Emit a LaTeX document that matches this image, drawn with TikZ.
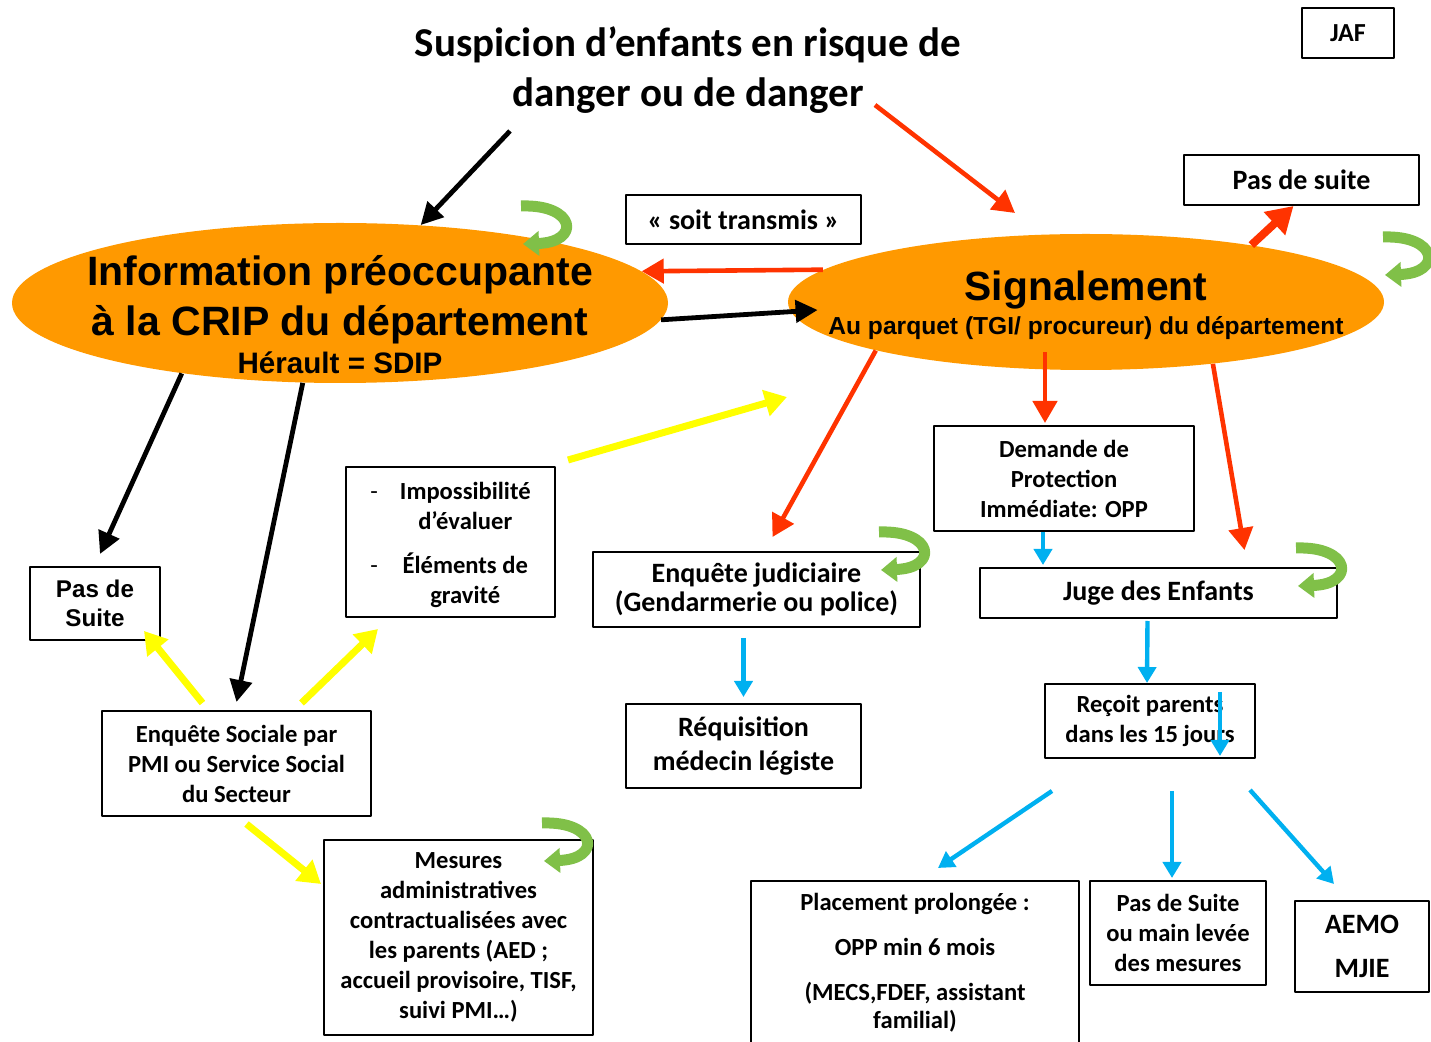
\documentclass[tikz,border=0pt]{standalone}
\usepackage{fontspec}
\setmainfont{Carlito}
\newfontfamily\arialf{Liberation Sans}
\usetikzlibrary{arrows.meta,shapes.geometric,calc}
\definecolor{orangeB}{RGB}{255,153,0}
\definecolor{rougeF}{RGB}{255,51,0}
\definecolor{jauneF}{RGB}{255,255,0}
\definecolor{bleuF}{RGB}{0,176,240}
\definecolor{vertF}{RGB}{128,192,72}
\tikzset{
  boite/.style={draw, line width=1pt, align=center, inner sep=0pt,
    font=\bfseries\fontsize{12.3}{15}\selectfont},
  grand/.style={font=\bfseries\fontsize{14}{17}\selectfont},
  bulle/.style={ellipse, fill=orangeB, inner sep=0pt},
  noire/.style={line width=2.4pt, -{Triangle[length=11pt,width=11pt]}},
  rouge/.style={rougeF, line width=2.3pt, -{Triangle[length=11pt,width=12pt]}},
  jaune/.style={jauneF, line width=3.5pt, -{Triangle[length=11pt,width=13pt]}},
  bleue/.style={bleuF, line width=2.2pt, -{Triangle[length=8pt,width=9pt]}},
  pics/boucle/.style={code={
    \draw[vertF, line width=5.5pt, -{Triangle[length=8pt,width=12pt]}]
      (0,0) .. controls (55,-2) and (60,36) .. (2,38);}}
}
\begin{document}
\begin{tikzpicture}[x=0.5pt, y=-0.5pt, line join=round]
  \useasboundingbox (0,0) rectangle (1431,1042);
  % titre et ellipses
  \node[font=\bfseries\fontsize{20.5}{25}\selectfont, align=center] (titre) at (688,70)
    {Suspicion d’enfants en risque de\\danger ou de danger};
  \node[boite, minimum width=46pt, minimum height=25pt, font=\bfseries\fontsize{13}{15}\selectfont] (jaf) at (1348,33) {JAF};
  \node[bulle, minimum width=328pt, minimum height=80pt] (ip) at (340,303) {};
  \node[font=\arialf\bfseries\fontsize{20.5}{25}\selectfont, align=center] (iptxt) at (340,300)
    {Information préoccupante\\à la CRIP du département};
  \node[font=\arialf\bfseries\fontsize{14.8}{18}\selectfont] (ipsdip) at (340,363) {Hérault = SDIP};
  \node[bulle, minimum width=298pt, minimum height=68pt] (sig) at (1086,302) {};
  \node[font=\arialf\bfseries\fontsize{20.4}{24}\selectfont] (sigtxt) at (1086,290) {Signalement};
  \node[font=\arialf\bfseries\fontsize{12.3}{15}\selectfont] (sigsub) at (1086,328)
    {Au parquet (TGI/ procureur) du département};
  % boites
  \node[boite, grand, minimum width=117.5pt, minimum height=24.5pt] (soit) at (743.5,219.5) {« soit transmis »};
  \node[boite, grand, minimum width=117.5pt, minimum height=25pt] (pds1) at (1301.5,180) {Pas de suite};
  \node[boite, minimum width=65pt, minimum height=36.5pt, font=\arialf\bfseries\fontsize{12.1}{14.5}\selectfont] (pds2) at (95,603.5) {Pas de\\Suite};
  \node[boite, minimum width=104.5pt, minimum height=75pt] (grav) at (450.5,542) {};
  \node[font=\bfseries\fontsize{12.3}{15}\selectfont] (gravtxt) at (450.5,546)
    {\begin{tabular}{@{}l@{\hspace{11pt}}c@{}}{\mdseries -}&Impossibilité\\&d’évaluer\\[7pt]{\mdseries -}&Éléments de\\&gravité\end{tabular}};
  \node[boite, minimum width=163.5pt, minimum height=37.5pt, font=\bfseries\fontsize{14}{14.5}\selectfont] (enqj) at (756.5,589.5) {Enquête judiciaire\\(Gendarmerie ou police)};
  \node[boite, minimum width=130pt, minimum height=52.5pt] (opp) at (1064,478.5) {Demande de\\Protection\\Immédiate: OPP};
  \node[boite, grand, minimum width=178.5pt, minimum height=25pt] (jde) at (1158.5,593) {Juge des Enfants};
  \node[boite, grand, minimum width=117.5pt, minimum height=42pt] (req) at (743.5,746) {Réquisition\\médecin légiste};
  \node[boite, minimum width=105pt, minimum height=37pt] (recoit) at (1150,721) {Reçoit parents\\dans les 15 jours};
  \node[boite, minimum width=134.5pt, minimum height=52.5pt] (enqs) at (236.5,763.5) {Enquête Sociale par\\PMI ou Service Social\\du Secteur};
  \node[boite, minimum width=134.5pt, minimum height=97.5pt] (mesures) at (458.5,937.5)
    {Mesures\\administratives\\contractualisées avec\\les parents (AED ;\\accueil provisoire, TISF,\\suivi PMI…)};
  \node[boite, minimum width=164pt, minimum height=90pt] (placement) at (915,971) {};
  \node[font=\bfseries\fontsize{12.3}{14}\selectfont, align=center] (placetxt) at (915,963)
    {Placement prolongée :\\[8.5pt]OPP min 6 mois\\[8.5pt](MECS,FDEF, assistant\\familial)};
  \node[boite, minimum width=88pt, minimum height=52pt] (levee) at (1178,933) {Pas de Suite\\ou main levée\\des mesures};
  \node[boite, minimum width=67pt, minimum height=45.5pt, font=\bfseries\fontsize{14}{22}\selectfont] (aemo) at (1362,946.5) {AEMO\\MJIE};
  % extremites libres
  \path (510,131) coordinate (d1) (875,105) coordinate (d2) (1015,213) coordinate (a2)
    (787,397) coordinate (j1) (1052,791) coordinate (b1) (1172,791) coordinate (b2)
    (1250,790) coordinate (b3);
  % fleches
  \draw[noire] (d1)--(ip.44);
  \draw[rouge] (d2)--(a2);
  \draw[rouge] (sig.173)--(ip.6);
  \draw[noire] (ip.-3)--($(sig.west)+(30,8)$);
  \draw[rouge, line width=4pt, -{Triangle[length=13pt,width=15pt]}] (sig.19.5)--($(pds1.south)+(-8,0)$);
  \draw[noire] (ip.204)--($(pds2.north)+(5,-12)$);
  \draw[noire] (ip.245)--($(enqs.north)+(0,-8)$);
  \draw[jaune] ($(grav.north east)+(12,-6)$)--(j1);
  \draw[rouge] (sig.193)--($(enqj.north)+(16,-14)$);
  \draw[rouge] ($(sig.south)+(-41,-18)$)--($(opp.north)+(-19,-2)$);
  \draw[rouge] (sig.-26)--($(jde.north)+(86,-17)$);
  \draw[bleue] ($(opp.south)+(-21,0)$)--($(jde.north)+(-115.5,-2)$);
  \draw[bleue] ($(jde.south)+(-11,2)$)--($(recoit.north)+(-3,0)$);
  \draw[bleue] ($(recoit.north)+(70,9)$)--($(recoit.south)+(70,-3)$);
  \draw[bleue, shorten <=5pt, shorten >=3pt] (enqj.south -| req.north)--(req.north);
  \draw[bleue] (b1)--($(placement.north)+(23,-12)$);
  \draw[bleue] (b2)--($(levee.north)+(-6,-2)$);
  \draw[bleue] (b3)--($(aemo.north)+(-28,-16)$);
  \draw[jaune] ($(enqs.north)+(-34,-7)$)--($(pds2.south east)+(-17,-10)$);
  \draw[jaune] ($(enqs.north)+(65,-7)$)--($(grav.south west)+(33,11)$);
  \draw[jaune] ($(enqs.south)+(10,7)$)--($(mesures.north west)+(-2,45)$);
  % boucles vertes
  \pic at (521,206) {boucle};
  \pic at (1383,237) {boucle};
  \pic at (879,532) {boucle};
  \pic at (1296,548) {boucle};
  \pic at (542,823) {boucle};
\end{tikzpicture}
\end{document}
